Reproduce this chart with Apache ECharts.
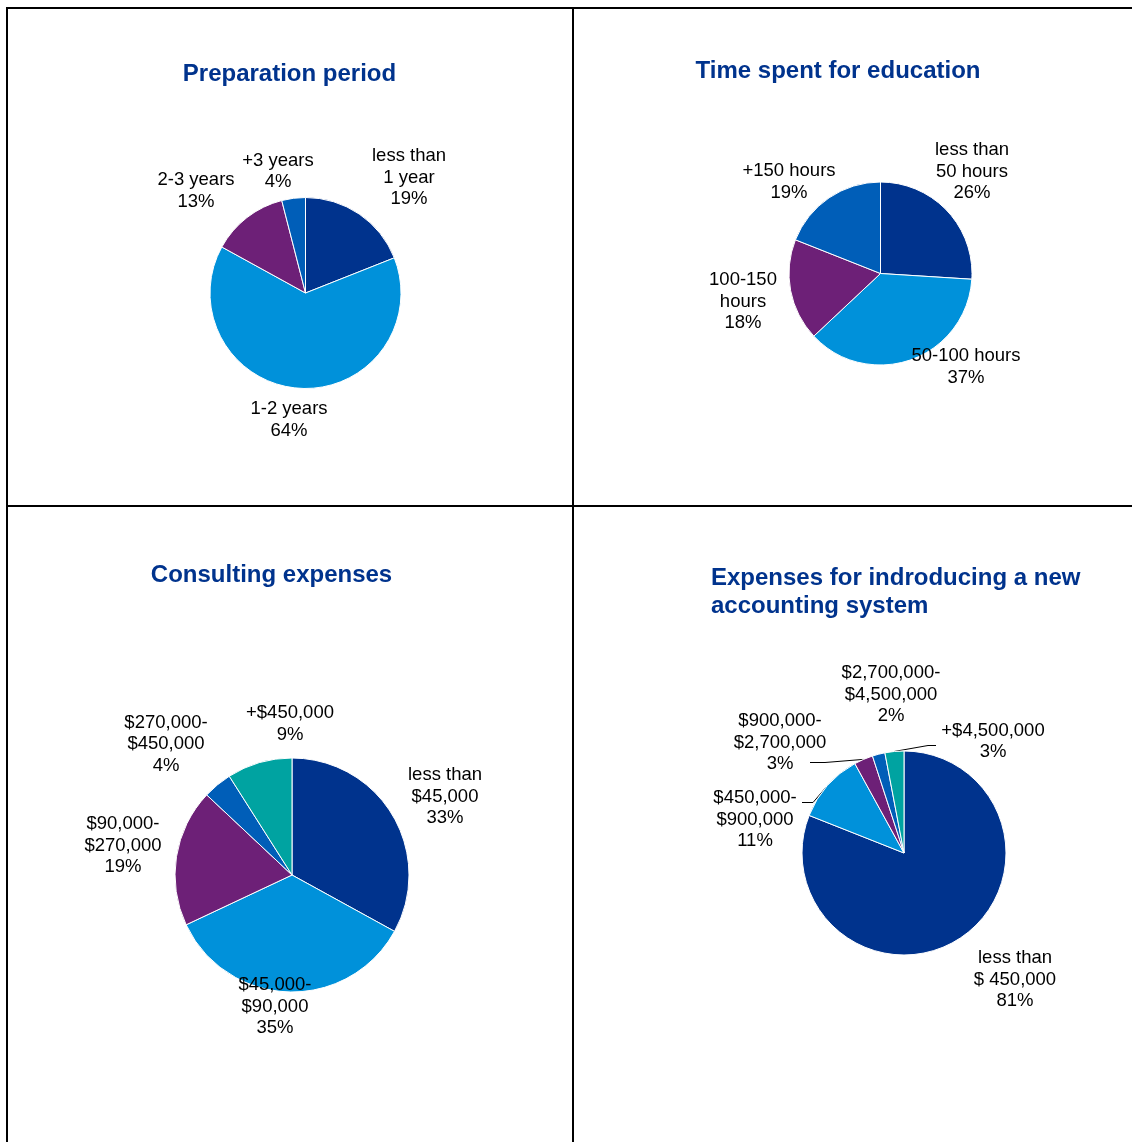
<!DOCTYPE html>
<html>
<head>
<meta charset="utf-8">
<script src="https://cdn.jsdelivr.net/npm/echarts@6/dist/echarts.min.js"></script>
<style>
  html, body { margin: 0; padding: 0; background: #fff; }
  #chart { width: 1132px; height: 1142px; }
</style>
</head>
<body>
<div id="chart"></div>
<script>
// Survey results shown as four pie charts (values in percent)
const prepCategories = ['less than\n1 year', '1-2 years', '2-3 years', '+3 years'];
const prepValues = [19, 64, 13, 4];

const eduCategories = ['less than\n50 hours', '50-100 hours', '100-150\nhours', '+150 hours'];
const eduValues = [26, 37, 18, 19];

const consultCategories = ['less than\n$45,000', '$45,000-\n$90,000', '$90,000-\n$270,000', '$270,000-\n$450,000', '+$450,000'];
const consultValues = [33, 35, 19, 4, 9];

const systemCategories = ['less than\n$ 450,000', '$450,000-\n$900,000', '$900,000-\n$2,700,000', '$2,700,000-\n$4,500,000', '+$4,500,000'];
const systemValues = [81, 11, 3, 2, 3];

const chartTitles = [
  'Preparation period',
  'Time spent for education',
  'Consulting expenses',
  'Expenses for indroducing a new\naccounting system'
];

const FONT = '"Liberation Sans", Arial, Helvetica, sans-serif';
const palette = ['#00338D', '#0091DA', '#6D2077', '#005EB8', '#00A3A1'];

// Panel layout: pie geometry, title anchor, label anchors, leader-line bends
const panels = [
  {
    names: prepCategories, values: prepValues,
    center: [305.5, 293], radius: 95.5,
    title: { x: 289.5, y: 74, align: 'center' },
    labels: [[409, 177.5], [289, 420], [196, 191], [278, 171.5]]
  },
  {
    names: eduCategories, values: eduValues,
    center: [880.5, 273.5], radius: 91.5,
    title: { x: 838, y: 71, align: 'center' },
    labels: [[972, 171.5], [966, 367], [743, 301.5], [789, 182]]
  },
  {
    names: consultCategories, values: consultValues,
    center: [292, 875], radius: 117,
    title: { x: 271.5, y: 575, align: 'center' },
    labels: [[445, 796.5], [275, 1006.5], [123, 845.5], [166, 744], [290, 724]]
  },
  {
    names: systemCategories, values: systemValues,
    center: [904, 853], radius: 102,
    title: { x: 711, y: 592.5, align: 'left' },
    labels: [[1015, 979.5], [755, 819.5], [780, 742.5], [891, 694.5], [993, 741.5]],
    guides: {
      1: [[813, 802.5], [802, 802.5]],
      2: [[825, 762.5], [810, 762.5]],
      4: [[928, 745.5], [936, 745.5]]
    }
  }
];

// Point on the slice rim at the middle of slice k (start at 12 o'clock, clockwise)
function rimPoint(panel, k) {
  const total = panel.values.reduce((a, b) => a + b, 0);
  let before = 0;
  for (let i = 0; i < k; i++) before += panel.values[i];
  const frac = (before + panel.values[k] / 2) / total;
  const ang = frac * Math.PI * 2;
  return [panel.center[0] + panel.radius * Math.sin(ang),
          panel.center[1] - panel.radius * Math.cos(ang)];
}

const series = panels.map(function (p) {
  return {
    type: 'pie',
    center: p.center,
    radius: p.radius,
    startAngle: 90,
    clockwise: true,
    avoidLabelOverlap: false,
    animation: false,
    silent: true,
    itemStyle: { borderColor: '#ffffff', borderWidth: 1 },
    label: {
      show: true,
      position: 'outside',
      formatter: '{b}\n{c}%',
      color: '#000000',
      fontFamily: FONT,
      fontSize: 18.5,
      lineHeight: 21.5,
      align: 'center'
    },
    labelLine: { show: false, smooth: false, lineStyle: { color: '#000000', width: 1 } },
    data: p.names.map(function (n, k) {
      return {
        name: n,
        value: p.values[k],
        itemStyle: { color: palette[k] },
        labelLine: { show: !!(p.guides && p.guides[k]) }
      };
    }),
    labelLayout: function (params) {
      const k = params.dataIndex;
      const pos = p.labels[k];
      const out = { x: pos[0], y: pos[1], align: 'center', verticalAlign: 'middle' };
      const bend = p.guides && p.guides[k];
      if (bend) {
        out.labelLinePoints = [rimPoint(p, k)].concat(bend);
      }
      return out;
    }
  };
});

// Panel frame lines and panel titles
const graphic = [
  { type: 'line', shape: { x1: 7, y1: 7, x2: 7, y2: 1142 }, style: { stroke: '#000', lineWidth: 2 } },
  { type: 'line', shape: { x1: 6, y1: 8, x2: 1132, y2: 8 }, style: { stroke: '#000', lineWidth: 2 } },
  { type: 'line', shape: { x1: 573, y1: 8, x2: 573, y2: 1142 }, style: { stroke: '#000', lineWidth: 2 } },
  { type: 'line', shape: { x1: 6, y1: 506, x2: 1132, y2: 506 }, style: { stroke: '#000', lineWidth: 2 } }
].concat(panels.map(function (p, i) {
  return {
    type: 'text',
    x: p.title.x,
    y: p.title.y,
    style: {
      text: chartTitles[i],
      fill: '#00338D',
      fontFamily: FONT,
      fontWeight: 'bold',
      fontSize: 24,
      lineHeight: 28,
      align: p.title.align,
      verticalAlign: 'middle'
    }
  };
}));

const chart = echarts.init(document.getElementById('chart'), null, { renderer: 'canvas' });
chart.setOption({
  backgroundColor: '#ffffff',
  animation: false,
  graphic: graphic,
  series: series
});
</script>
</body>
</html>
